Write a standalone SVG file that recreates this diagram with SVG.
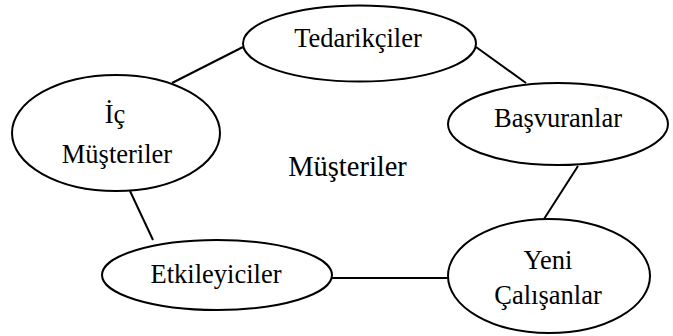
<svg xmlns="http://www.w3.org/2000/svg" width="673" height="336" viewBox="0 0 673 336">
<style>
.n ellipse{fill:#fff;stroke:#000;stroke-width:2}
.t{font-family:'Liberation Serif','DejaVu Serif',serif;font-size:26.5px;fill:#000;text-anchor:middle}
.c{font-size:28.5px}
#edges line{stroke:#000;stroke-width:2}
</style>
<rect width="673" height="336" fill="#fff"/>
<g id="edges">
<line x1="243" y1="47" x2="172" y2="83"/>
<line x1="476" y1="47" x2="526" y2="83"/>
<line x1="578" y1="166" x2="544" y2="219"/>
<line x1="130" y1="191" x2="153" y2="240"/>
<line x1="332" y1="278" x2="448" y2="278"/>
</g>
<g id="tedarikciler" class="n"><ellipse cx="359.5" cy="43.5" rx="116.5" ry="38"/><text class="t" x="358" y="47">Tedarikçiler</text></g>
<g id="basvuranlar" class="n"><ellipse cx="558" cy="124" rx="110" ry="41"/><text class="t" x="558" y="127">Başvuranlar</text></g>
<g id="ic-musteriler" class="n"><ellipse cx="116" cy="133" rx="104" ry="58"/><text class="t" x="115" y="123">İç</text><text class="t" x="117" y="163">Müşteriler</text></g>
<g id="etkileyiciler" class="n"><ellipse cx="217" cy="275" rx="115" ry="35"/><text class="t" x="216" y="283">Etkileyiciler</text></g>
<g id="yeni-calisanlar" class="n"><ellipse cx="549" cy="276" rx="101" ry="57"/><text class="t" x="548" y="269">Yeni</text><text class="t" x="548" y="304">Çalışanlar</text></g>
<g id="musteriler"><text class="t c" x="347.5" y="176">Müşteriler</text></g>
</svg>
